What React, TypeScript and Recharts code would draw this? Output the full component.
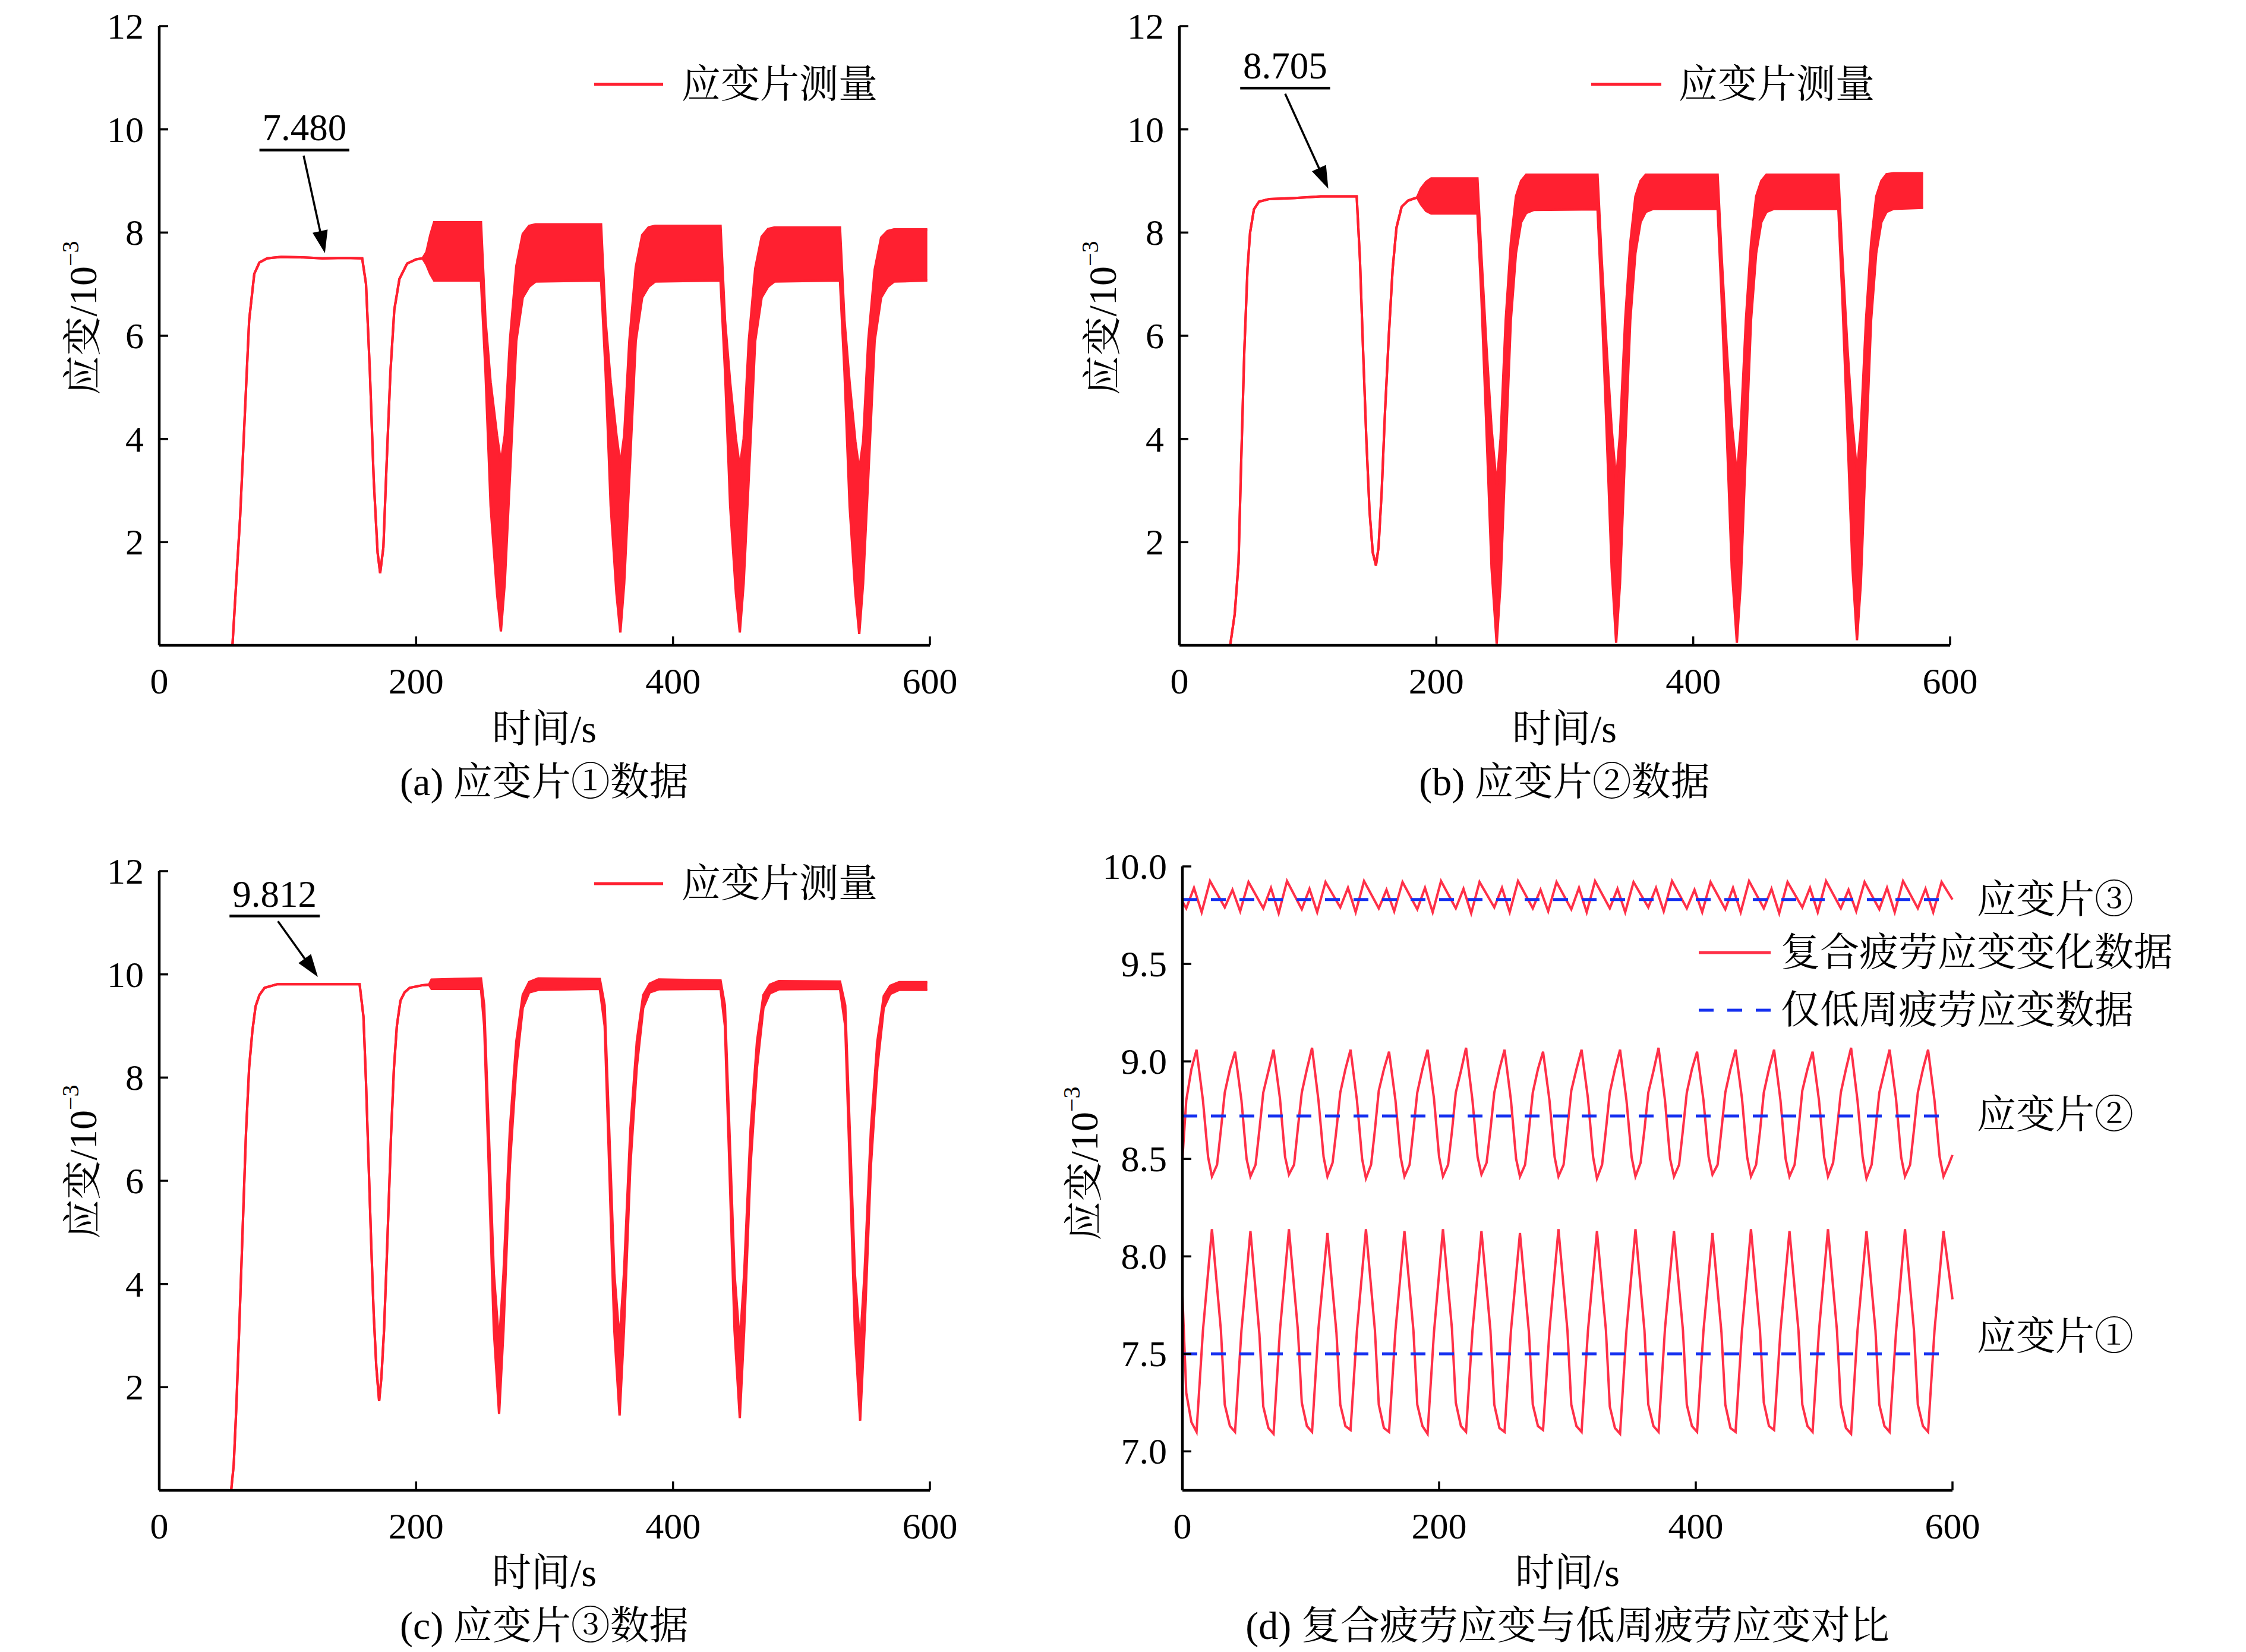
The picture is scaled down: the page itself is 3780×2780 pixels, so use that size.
import React from "react";
import {
  ComposedChart,
  LineChart,
  Line,
  Area,
  XAxis,
  YAxis,
  ReferenceLine,
} from "recharts";

const FONT =
  "'Liberation Serif', 'Times New Roman', 'Noto Serif CJK SC', 'Noto Sans CJK SC', serif";
const RED = "#ff2030";
const RED_D = "#ff3048";
const BLUE = "#1530f0";

// ---- panel (a): strain gauge 1, envelope of the fast oscillation (lo / hi)
const A_T = [0, 57, 63, 70, 74, 78, 84, 95, 110, 127, 145, 158, 161, 164, 167, 170, 172, 174.5, 177, 180, 183, 187, 193, 200, 205, 208, 211, 214,
  250.5, 254, 258, 263, 266, 269, 273, 278, 283, 288, 293, 344,
  347.5, 351.5, 356, 359, 362, 366, 371, 376, 381, 386, 437,
  440.5, 444.5, 449, 452, 455, 459, 464, 469, 474, 479, 530,
  533.5, 537.5, 542, 545, 548, 552, 557, 562, 567, 572, 598];
const A_LO = [0, 0, 2.5, 6.3, 7.2, 7.42, 7.5, 7.53, 7.52, 7.5, 7.51, 7.5, 7.0, 5.3, 3.2, 1.8, 1.4, 1.9, 3.5, 5.3, 6.5, 7.1, 7.4, 7.48, 7.5, 7.38, 7.2, 7.07,
  7.07, 5.3, 2.7, 1.0, 0.27, 1.2, 3.25, 5.9, 6.74, 6.95, 7.05, 7.07,
  5.3, 2.7, 1.0, 0.25, 1.2, 3.25, 5.9, 6.74, 6.95, 7.05, 7.07,
  5.3, 2.7, 1.0, 0.25, 1.2, 3.25, 5.9, 6.74, 6.95, 7.05, 7.07,
  5.3, 2.7, 1.0, 0.22, 1.2, 3.25, 5.9, 6.74, 6.95, 7.05, 7.07];
const A_HI = [0, 0, 2.5, 6.3, 7.2, 7.42, 7.5, 7.53, 7.52, 7.5, 7.51, 7.5, 7.0, 5.3, 3.2, 1.8, 1.4, 1.9, 3.5, 5.3, 6.5, 7.1, 7.4, 7.48, 7.5, 7.62, 7.95, 8.2,
  8.2, 6.3, 5.1, 4.07, 3.55, 4.07, 5.9, 7.35, 7.97, 8.13, 8.16, 8.16,
  6.3, 5.1, 4.07, 3.5, 4.07, 5.9, 7.33, 7.95, 8.1, 8.13, 8.13,
  6.3, 5.1, 4.0, 3.45, 4.0, 5.9, 7.3, 7.92, 8.07, 8.1, 8.1,
  6.3, 5.1, 3.95, 3.4, 3.95, 5.9, 7.28, 7.9, 8.03, 8.06, 8.06];

// ---- panel (b): strain gauge 2
const B_T = [0, 39.5, 43, 46, 48, 50.5, 53, 55, 58, 62, 70, 90, 110, 138, 140.5, 143, 145.5, 148, 150.5, 153, 155, 157.5, 160, 163, 166, 169, 173, 178, 185, 188, 192, 196,
  232, 235, 239, 243, 247, 250, 254, 258, 262, 266, 270, 276, 325.5,
  328.5, 332.5, 336.5, 340, 343, 347, 351, 355, 359, 363, 369, 419,
  422, 426, 430, 434, 437, 441, 445, 449, 453, 457, 463, 513,
  516, 520, 524, 527.5, 530.5, 534.5, 538.5, 542.5, 546.5, 550.5, 556, 579];
const B_LO = [0, 0, 0.6, 1.6, 3.5, 5.7, 7.3, 8.0, 8.45, 8.6, 8.65, 8.67, 8.7, 8.7, 7.5, 5.7, 4.0, 2.6, 1.8, 1.55, 1.9, 3.0, 4.5, 6.0, 7.3, 8.1, 8.5, 8.62, 8.68, 8.55, 8.42, 8.37,
  8.37, 6.8, 4.2, 1.5, 0.03, 1.2, 3.8, 6.3, 7.6, 8.2, 8.38, 8.44, 8.45,
  6.8, 4.2, 1.5, 0.05, 1.2, 3.8, 6.3, 7.6, 8.2, 8.4, 8.46, 8.46,
  6.8, 4.2, 1.5, 0.05, 1.2, 3.8, 6.3, 7.6, 8.2, 8.4, 8.46, 8.46,
  6.8, 4.2, 1.5, 0.1, 1.2, 3.8, 6.3, 7.6, 8.2, 8.4, 8.46, 8.48];
const B_HI = [0, 0, 0.6, 1.6, 3.5, 5.7, 7.3, 8.0, 8.45, 8.6, 8.65, 8.67, 8.7, 8.7, 7.5, 5.7, 4.0, 2.6, 1.8, 1.55, 1.9, 3.0, 4.5, 6.0, 7.3, 8.1, 8.5, 8.62, 8.68, 8.85, 8.98, 9.05,
  9.05, 7.6, 5.8, 4.2, 3.1, 4.0, 6.3, 7.8, 8.7, 9.0, 9.12, 9.12, 9.12,
  7.6, 5.8, 4.2, 3.2, 4.1, 6.3, 7.8, 8.7, 9.0, 9.12, 9.12, 9.12,
  7.6, 5.8, 4.3, 3.3, 4.2, 6.3, 7.8, 8.7, 9.0, 9.12, 9.12, 9.12,
  7.6, 5.8, 4.3, 3.35, 4.2, 6.3, 7.8, 8.7, 9.0, 9.13, 9.15, 9.15];

// ---- panel (c): strain gauge 3
const C_T = [0, 56, 58, 60, 62.5, 65, 67.5, 70, 72.5, 75, 78, 82, 92, 120, 156, 159, 161, 162.6, 165, 167, 169, 171.2, 173, 175, 177, 178.7, 180.5, 182.7, 185, 187.8, 191, 195, 205, 210, 212,
  250.5, 253, 256.5, 260.5, 264.6, 268, 273, 278, 283, 288, 295, 343,
  346.8, 350.3, 354.3, 358.4, 361.8, 366.8, 371.8, 376.8, 381.8, 388.8, 437,
  440.4, 443.9, 447.9, 452, 455.4, 460.4, 465.4, 470.4, 475.4, 482.4, 530,
  534.1, 537.6, 541.6, 545.7, 549.1, 554.1, 559.1, 564.1, 569.1, 576.1, 598];
const C_LO = [0, 0, 0.5, 1.6, 3.3, 5.1, 6.9, 8.2, 8.9, 9.38, 9.6, 9.74, 9.81, 9.81, 9.81, 9.18, 7.9, 6.65, 4.8, 3.4, 2.4, 1.73, 2.2, 3.1, 4.4, 5.6, 6.9, 8.17, 9.0, 9.49, 9.65, 9.74, 9.79, 9.8, 9.72,
  9.72, 9.0, 6.3, 3.1, 1.48, 3.1, 6.3, 8.2, 9.35, 9.65, 9.7, 9.72,
  9.0, 6.3, 3.1, 1.45, 3.1, 6.3, 8.2, 9.35, 9.65, 9.71, 9.72,
  9.0, 6.3, 3.1, 1.4, 3.1, 6.3, 8.2, 9.35, 9.63, 9.71, 9.72,
  9.0, 6.3, 3.1, 1.35, 3.1, 6.3, 8.2, 9.35, 9.62, 9.7, 9.7];
const C_HI = [0, 0, 0.5, 1.6, 3.3, 5.1, 6.9, 8.2, 8.9, 9.38, 9.6, 9.74, 9.81, 9.81, 9.81, 9.18, 7.9, 6.65, 4.8, 3.4, 2.4, 1.73, 2.2, 3.1, 4.4, 5.6, 6.9, 8.17, 9.0, 9.49, 9.65, 9.74, 9.79, 9.8, 9.9,
  9.92, 9.4, 7.0, 4.2, 2.85, 4.2, 7.0, 8.7, 9.6, 9.85, 9.92, 9.91,
  9.4, 7.0, 4.2, 2.9, 4.2, 7.0, 8.7, 9.6, 9.82, 9.9, 9.88,
  9.4, 7.0, 4.2, 2.85, 4.2, 7.0, 8.7, 9.6, 9.8, 9.87, 9.86,
  9.4, 7.0, 4.2, 2.8, 4.2, 7.0, 8.7, 9.58, 9.78, 9.85, 9.85];

// ---- panel (d): combined fatigue strain vs low-cycle only
const D1_T = [0, 3, 7, 11, 16,
  23, 30, 33, 37, 41, 46, 53, 60, 63, 67, 71, 76, 83, 90, 93, 97, 101, 106,
  113, 120, 123, 127, 131, 136, 143, 150, 153, 157, 161, 166, 173, 180, 183, 187, 191, 196,
  203, 210, 213, 217, 221, 226, 233, 240, 243, 247, 251, 256, 263, 270, 273, 277, 281, 286,
  293, 300, 303, 307, 311, 316, 323, 330, 333, 337, 341, 346, 353, 360, 363, 367, 371, 376,
  383, 390, 393, 397, 401, 406, 413, 420, 423, 427, 431, 436, 443, 450, 453, 457, 461, 466,
  473, 480, 483, 487, 491, 496, 503, 510, 513, 517, 521, 526, 533, 540, 543, 547, 551, 556,
  563, 570, 573, 577, 581, 586, 593, 600];
const D1_V = [7.8, 7.3, 7.15, 7.1, 7.62,
  8.14, 7.62, 7.24, 7.13, 7.1, 7.62, 8.13, 7.6, 7.23, 7.12, 7.09, 7.62, 8.14, 7.62, 7.25, 7.13, 7.1, 7.63,
  8.12, 7.61, 7.24, 7.13, 7.11, 7.62, 8.14, 7.62, 7.24, 7.12, 7.1, 7.62, 8.13, 7.62, 7.24, 7.13, 7.09, 7.61,
  8.14, 7.63, 7.25, 7.13, 7.1, 7.62, 8.13, 7.62, 7.24, 7.12, 7.1, 7.62, 8.12, 7.61, 7.24, 7.13, 7.11, 7.62,
  8.14, 7.62, 7.24, 7.13, 7.1, 7.62, 8.13, 7.62, 7.23, 7.12, 7.09, 7.62, 8.14, 7.62, 7.24, 7.13, 7.1, 7.63,
  8.13, 7.62, 7.24, 7.13, 7.1, 7.62, 8.12, 7.61, 7.24, 7.12, 7.1, 7.62, 8.14, 7.62, 7.25, 7.13, 7.11, 7.62,
  8.13, 7.62, 7.24, 7.13, 7.1, 7.62, 8.14, 7.62, 7.24, 7.12, 7.09, 7.62, 8.13, 7.62, 7.24, 7.13, 7.1, 7.61,
  8.14, 7.62, 7.24, 7.13, 7.1, 7.62, 8.13, 7.78];

const D2_T = [0, 3, 7,
  11, 16, 20, 23, 27, 30, 33, 37, 41, 46, 50, 53, 57, 60, 63, 67,
  71, 76, 80, 83, 87, 90, 93, 97, 101, 106, 110, 113, 117, 120, 123, 127,
  131, 136, 140, 143, 147, 150, 153, 157, 161, 166, 170, 173, 177, 180, 183, 187,
  191, 196, 200, 203, 207, 210, 213, 217, 221, 226, 230, 233, 237, 240, 243, 247,
  251, 256, 260, 263, 267, 270, 273, 277, 281, 286, 290, 293, 297, 300, 303, 307,
  311, 316, 320, 323, 327, 330, 333, 337, 341, 346, 350, 353, 357, 360, 363, 367,
  371, 376, 380, 383, 387, 390, 393, 397, 401, 406, 410, 413, 417, 420, 423, 427,
  431, 436, 440, 443, 447, 450, 453, 457, 461, 466, 470, 473, 477, 480, 483, 487,
  491, 496, 500, 503, 507, 510, 513, 517, 521, 526, 530, 533, 537, 540, 543, 547,
  551, 556, 560, 563, 567, 570, 573, 577, 581, 586, 590, 593, 597, 600];
const D2_V = [8.5, 8.8, 8.96,
  9.06, 8.8, 8.51, 8.41, 8.47, 8.65, 8.84, 8.96, 9.05, 8.8, 8.5, 8.41, 8.47, 8.65, 8.84, 8.95,
  9.06, 8.81, 8.51, 8.42, 8.47, 8.66, 8.84, 8.96, 9.07, 8.8, 8.51, 8.41, 8.48, 8.65, 8.84, 8.96,
  9.06, 8.8, 8.5, 8.4, 8.47, 8.65, 8.85, 8.96, 9.05, 8.8, 8.51, 8.41, 8.47, 8.65, 8.84, 8.96,
  9.06, 8.81, 8.51, 8.41, 8.47, 8.64, 8.84, 8.95, 9.07, 8.8, 8.51, 8.42, 8.48, 8.65, 8.84, 8.96,
  9.06, 8.8, 8.5, 8.41, 8.47, 8.65, 8.84, 8.96, 9.05, 8.8, 8.51, 8.41, 8.47, 8.66, 8.85, 8.96,
  9.06, 8.81, 8.51, 8.4, 8.47, 8.65, 8.84, 8.96, 9.06, 8.8, 8.51, 8.41, 8.48, 8.65, 8.84, 8.95,
  9.07, 8.8, 8.5, 8.41, 8.47, 8.65, 8.84, 8.96, 9.05, 8.8, 8.51, 8.42, 8.47, 8.65, 8.84, 8.96,
  9.06, 8.81, 8.51, 8.41, 8.47, 8.64, 8.84, 8.96, 9.06, 8.8, 8.5, 8.41, 8.47, 8.65, 8.85, 8.96,
  9.05, 8.8, 8.51, 8.41, 8.48, 8.65, 8.84, 8.96, 9.07, 8.8, 8.51, 8.4, 8.47, 8.65, 8.84, 8.95,
  9.06, 8.81, 8.51, 8.41, 8.47, 8.65, 8.84, 8.96, 9.06, 8.8, 8.51, 8.41, 8.47, 8.52];

const D3_T = [0,
  3, 9, 15, 21.5, 33, 39, 45, 51.5, 63, 69, 75, 81.5, 93, 99, 105, 111.5,
  123, 129, 135, 141.5, 153, 159, 165, 171.5, 183, 189, 195, 201.5, 213, 219, 225, 231.5,
  243, 249, 255, 261.5, 273, 279, 285, 291.5, 303, 309, 315, 321.5, 333, 339, 345, 351.5,
  363, 369, 375, 381.5, 393, 399, 405, 411.5, 423, 429, 435, 441.5, 453, 459, 465, 471.5,
  483, 489, 495, 501.5, 513, 519, 525, 531.5, 543, 549, 555, 561.5, 573, 579, 585, 591.5,
  600];
const D3_V = [9.82,
  9.785, 9.89, 9.765, 9.925, 9.79, 9.88, 9.77, 9.92, 9.785, 9.89, 9.76, 9.925, 9.78, 9.885, 9.765, 9.92,
  9.79, 9.89, 9.765, 9.925, 9.785, 9.88, 9.77, 9.92, 9.78, 9.89, 9.765, 9.925, 9.785, 9.885, 9.76, 9.92,
  9.79, 9.89, 9.765, 9.925, 9.785, 9.88, 9.77, 9.92, 9.78, 9.89, 9.765, 9.925, 9.785, 9.885, 9.765, 9.92,
  9.79, 9.89, 9.77, 9.925, 9.785, 9.88, 9.765, 9.92, 9.78, 9.89, 9.765, 9.925, 9.785, 9.885, 9.76, 9.92,
  9.79, 9.89, 9.765, 9.925, 9.785, 9.88, 9.77, 9.92, 9.78, 9.89, 9.765, 9.925, 9.785, 9.885, 9.765, 9.92,
  9.83];

const BASE_T = [0, 590];
const BASE1_V = [7.5, 7.5];
const BASE2_V = [8.72, 8.72];
const BASE3_V = [9.83, 9.83];

const X_TICKS = [0, 200, 400, 600];
const Y_TICKS = [2, 4, 6, 8, 10, 12];
const D_Y_TICKS = [7, 7.5, 8, 8.5, 9, 9.5, 10];

// annotations in data units: underline [x0, x1, y], arrow [from x, y, to x, y]
const A_NOTE = { text: "7.480", line: [78, 148, 9.6], arrow: [112.4, 9.49, 129, 7.6] };
const B_NOTE = { text: "8.705", line: [47.3, 117.3, 10.8], arrow: [82.3, 10.69, 115.9, 8.85] };
const C_NOTE = { text: "9.812", line: [54.7, 125, 11.13], arrow: [92.4, 11.03, 123.5, 9.95] };

const toBand = (t: number[], lo: number[], hi: number[]) =>
  t.map((x, i) => ({ t: x, band: [lo[i], hi[i]] }));
const toLine = (t: number[], v: number[]) => t.map((x, i) => ({ t: x, v: v[i] }));

const TICK_LEN = 15;
const AXIS_W = 4.5;

function YTick(props: any) {
  const { x, y, payload, decimals } = props;
  const label = decimals ? Number(payload.value).toFixed(decimals) : String(payload.value);
  return (
    <g>
      <line x1={x} y1={y} x2={x + TICK_LEN} y2={y} stroke="#000" strokeWidth={3.5} />
      <text x={x - 26} y={y} textAnchor="end" dominantBaseline="central" fontFamily={FONT} fontSize={62} fill="#000">
        {label}
      </text>
    </g>
  );
}

function XTick(props: any) {
  const { x, y, payload } = props;
  return (
    <g>
      <line x1={x} y1={y} x2={x} y2={y - TICK_LEN} stroke="#000" strokeWidth={3.5} />
      <text x={x} y={y + 60} textAnchor="middle" dominantBaseline="central" fontFamily={FONT} fontSize={62} fill="#000">
        {payload.value}
      </text>
    </g>
  );
}

function UnderlineShape(props: any) {
  const { x1, y1, x2, y2, text } = props;
  return (
    <g>
      <line x1={x1} y1={y1} x2={x2} y2={y2} stroke="#000" strokeWidth={4.5} />
      <text x={(x1 + x2) / 2} y={y1 - 16} textAnchor="middle" fontFamily={FONT} fontSize={63} fill="#000">
        {text}
      </text>
    </g>
  );
}

function ArrowShape(props: any) {
  const { x1, y1, x2, y2 } = props;
  const dx = x2 - x1;
  const dy = y2 - y1;
  const len = Math.hypot(dx, dy) || 1;
  const ux = dx / len;
  const uy = dy / len;
  const head = 38;
  const half = 13;
  const bx = x2 - ux * head;
  const by = y2 - uy * head;
  return (
    <g>
      <line x1={x1} y1={y1} x2={bx + ux * 4} y2={by + uy * 4} stroke="#000" strokeWidth={3.5} />
      <polygon
        points={`${x2},${y2} ${bx - uy * half},${by + ux * half} ${bx + uy * half},${by - ux * half}`}
        fill="#000"
      />
    </g>
  );
}

const YW = 200;
const XH = 130;
const MT = 70;
const MR = 90;

function box(L: number, T: number, R: number, B: number) {
  return {
    style: { position: "absolute" as const, left: L - YW, top: T - MT },
    width: YW + (R - L) + MR,
    height: MT + (B - T) + XH,
  };
}

type Note = { text: string; line: number[]; arrow: number[] };

function StrainPanel({ rows, L, T, R, B, note }: { rows: any[]; L: number; T: number; R: number; B: number; note: Note }) {
  const b = box(L, T, R, B);
  return (
    <div style={b.style}>
      <ComposedChart width={b.width} height={b.height} data={rows} margin={{ top: MT, right: MR, bottom: 0, left: 0 }}>
        <XAxis
          dataKey="t"
          type="number"
          domain={[0, 600]}
          ticks={X_TICKS}
          interval={0}
          tickSize={0}
          tickMargin={0}
          tickLine={false}
          height={XH}
          axisLine={{ stroke: "#000", strokeWidth: AXIS_W }}
          tick={(p: any) => <XTick {...p} />}
        />
        <YAxis
          type="number"
          domain={[0, 12]}
          ticks={Y_TICKS}
          interval={0}
          tickSize={0}
          tickMargin={0}
          tickLine={false}
          width={YW}
          axisLine={{ stroke: "#000", strokeWidth: AXIS_W }}
          tick={(p: any) => <YTick {...p} />}
        />
        <Area
          type="linear"
          dataKey="band"
          stroke={RED}
          strokeWidth={4}
          fill={RED}
          fillOpacity={1}
          dot={false}
          activeDot={false}
          isAnimationActive={false}
        />
        <ReferenceLine
          segment={[{ x: note.line[0], y: note.line[2] }, { x: note.line[1], y: note.line[2] }]}
          shape={(p: any) => <UnderlineShape {...p} text={note.text} />}
        />
        <ReferenceLine
          segment={[{ x: note.arrow[0], y: note.arrow[1] }, { x: note.arrow[2], y: note.arrow[3] }]}
          shape={(p: any) => <ArrowShape {...p} />}
        />
      </ComposedChart>
    </div>
  );
}

function Txt({ x, y, children, size = 66, anchor = "middle" }: { x: number; y: number; children: React.ReactNode; size?: number; anchor?: string }) {
  const tx = anchor === "middle" ? "-50%" : anchor === "end" ? "-100%" : "0";
  return (
    <div
      style={{
        position: "absolute",
        left: x,
        top: y,
        transform: `translate(${tx}, -50%)`,
        fontFamily: FONT,
        fontSize: size,
        lineHeight: 1,
        whiteSpace: "nowrap",
        color: "#000",
      }}
    >
      {children}
    </div>
  );
}

function YLabel({ x, y }: { x: number; y: number }) {
  return (
    <div
      style={{
        position: "absolute",
        left: x,
        top: y,
        transform: "translate(-50%, -50%) rotate(-90deg)",
        fontFamily: FONT,
        fontSize: 66,
        lineHeight: 1,
        whiteSpace: "nowrap",
        color: "#000",
      }}
    >
      应变/10
      <span style={{ fontSize: 40, position: "relative", top: -30 }}>−3</span>
    </div>
  );
}

function LegendLine({ x1, x2, y, color, dashed = false }: { x1: number; x2: number; y: number; color: string; dashed?: boolean }) {
  return (
    <svg style={{ position: "absolute", left: x1, top: y - 5 }} width={x2 - x1} height={10}>
      <line
        x1={0}
        y1={5}
        x2={x2 - x1}
        y2={5}
        stroke={color}
        strokeWidth={5}
        strokeDasharray={dashed ? "25 23" : undefined}
      />
    </svg>
  );
}

export default function App() {
  const aRows = toBand(A_T, A_LO, A_HI);
  const bRows = toBand(B_T, B_LO, B_HI);
  const cRows = toBand(C_T, C_LO, C_HI);
  const d = box(1990, 1458, 3286, 2508);

  return (
    <div
      style={{
        position: "absolute",
        left: 0,
        top: 0,
        width: 3780,
        height: 2780,
        background: "#fff",
        overflow: "hidden",
      }}
    >
      <StrainPanel rows={aRows} L={268} T={44} R={1565} B={1086} note={A_NOTE} />
      <StrainPanel rows={bRows} L={1985} T={44} R={3282} B={1086} note={B_NOTE} />
      <StrainPanel rows={cRows} L={268} T={1466} R={1565} B={2508} note={C_NOTE} />

      <div style={d.style}>
        <LineChart width={d.width} height={d.height} margin={{ top: MT, right: MR, bottom: 0, left: 0 }}>
          <XAxis
            dataKey="t"
            type="number"
            domain={[0, 600]}
            ticks={X_TICKS}
            interval={0}
            tickSize={0}
            tickMargin={0}
            tickLine={false}
            height={XH}
            axisLine={{ stroke: "#000", strokeWidth: AXIS_W }}
            tick={(p: any) => <XTick {...p} />}
            allowDuplicatedCategory={false}
          />
          <YAxis
            type="number"
            domain={[6.8, 10]}
            ticks={D_Y_TICKS}
            interval={0}
            tickSize={0}
            tickMargin={0}
            tickLine={false}
            width={YW}
            axisLine={{ stroke: "#000", strokeWidth: AXIS_W }}
            tick={(p: any) => <YTick {...p} decimals={1} />}
          />
          <Line data={toLine(D1_T, D1_V)} dataKey="v" type="linear" stroke={RED_D} strokeWidth={4} dot={false} activeDot={false} isAnimationActive={false} />
          <Line data={toLine(D2_T, D2_V)} dataKey="v" type="linear" stroke={RED_D} strokeWidth={4} dot={false} activeDot={false} isAnimationActive={false} />
          <Line data={toLine(D3_T, D3_V)} dataKey="v" type="linear" stroke={RED_D} strokeWidth={4} dot={false} activeDot={false} isAnimationActive={false} />
          <Line data={toLine(BASE_T, BASE1_V)} dataKey="v" type="linear" stroke={BLUE} strokeWidth={5} strokeDasharray="25 23" dot={false} activeDot={false} isAnimationActive={false} />
          <Line data={toLine(BASE_T, BASE2_V)} dataKey="v" type="linear" stroke={BLUE} strokeWidth={5} strokeDasharray="25 23" dot={false} activeDot={false} isAnimationActive={false} />
          <Line data={toLine(BASE_T, BASE3_V)} dataKey="v" type="linear" stroke={BLUE} strokeWidth={5} strokeDasharray="25 23" dot={false} activeDot={false} isAnimationActive={false} />
        </LineChart>
      </div>

      {/* legends of (a)-(c) */}
      <LegendLine x1={1000} x2={1116} y={142} color={RED} />
      <Txt x={1147} y={142} anchor="start">应变片测量</Txt>
      <LegendLine x1={2678} x2={2796} y={142} color={RED} />
      <Txt x={2825} y={142} anchor="start">应变片测量</Txt>
      <LegendLine x1={1000} x2={1116} y={1487} color={RED} />
      <Txt x={1147} y={1487} anchor="start">应变片测量</Txt>

      {/* legend and labels of (d) */}
      <Txt x={3327} y={1514} anchor="start">应变片③</Txt>
      <LegendLine x1={2859} x2={2980} y={1603} color={RED_D} />
      <Txt x={2997} y={1603} anchor="start">复合疲劳应变变化数据</Txt>
      <LegendLine x1={2859} x2={2980} y={1700} color={BLUE} dashed />
      <Txt x={2997} y={1700} anchor="start">仅低周疲劳应变数据</Txt>
      <Txt x={3327} y={1876} anchor="start">应变片②</Txt>
      <Txt x={3327} y={2249} anchor="start">应变片①</Txt>

      {/* axis titles */}
      <YLabel x={140} y={535} />
      <YLabel x={1856} y={535} />
      <YLabel x={140} y={1955} />
      <YLabel x={1825} y={1958} />
      <Txt x={916} y={1227}>时间/s</Txt>
      <Txt x={2633} y={1227}>时间/s</Txt>
      <Txt x={916} y={2647}>时间/s</Txt>
      <Txt x={2638} y={2647}>时间/s</Txt>

      {/* captions */}
      <Txt x={916} y={1316}>(a) 应变片①数据</Txt>
      <Txt x={2633} y={1316}>(b) 应变片②数据</Txt>
      <Txt x={916} y={2736}>(c) 应变片③数据</Txt>
      <Txt x={2638} y={2736}>(d) 复合疲劳应变与低周疲劳应变对比</Txt>
    </div>
  );
}
